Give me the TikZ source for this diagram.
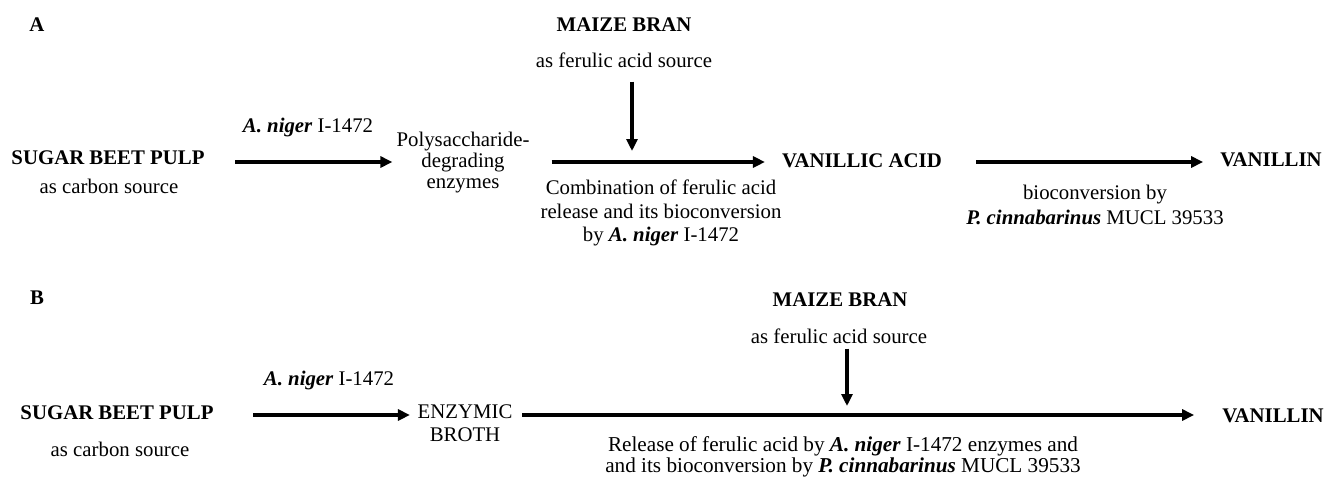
\documentclass[tikz,border=0pt]{standalone}
\usepackage{fontspec}
\setmainfont{Liberation Serif}
\usetikzlibrary{arrows.meta}
\begin{document}
\begin{tikzpicture}[x=1pt,y=-1pt,
  every node/.style={inner sep=0pt, align=center, font=\fontsize{20.8}{21}\selectfont},
  hd/.style={font=\fontsize{20.8}{21}\selectfont\bfseries},
  arr/.style={line width=3.2pt, -{Triangle[length=12pt,width=11pt]}},
]
\useasboundingbox (0,0) rectangle (1326,480);
% ---------- Panel A ----------
\node[hd] (labA) at (37,25) {A};
\node[hd] (sbpA) at (108,158) {SUGAR BEET PULP};
\node (carbA) at (109,186) {as carbon source};
\node (nigA) at (308,127) {\textbf{\textit{A. niger}} I-1472};
\node (polyA) at (463,163) {Polysaccharide-\\degrading\\enzymes};
\node[hd] (maizeA) at (624,25) {MAIZE BRAN};
\node (ferA) at (624,60) {as ferulic acid source};
\node[hd] (vaA) at (862,161) {VANILLIC ACID};
\node[font=\fontsize{20.8}{23.5}\selectfont] (combA) at (661,213) {Combination of ferulic acid\\release and its bioconversion\\by \textbf{\textit{A. niger}} I-1472};
\node[hd] (vanA) at (1271,160) {VANILLIN};
\node[font=\fontsize{20.8}{25}\selectfont] (bioA) at (1095,205) {bioconversion by\\\textbf{\textit{P. cinnabarinus}} MUCL 39533};
\coordinate (mixA) at (632,151);

\draw[arr] ([xshift=30.5pt,yshift=-4pt]sbpA.east) coordinate (a1) -- ([xshift=-4pt]polyA.west |- a1);
\draw[arr] ([xshift=22pt]polyA.east |- a1) -- ([xshift=-17pt]vaA.west |- a1);
\draw[arr] ([xshift=34pt]vaA.east |- a1) -- ([xshift=-17pt]vanA.west |- a1);
\draw[arr] (ferA.south -| mixA) ++(0,14) -- (mixA);

% ---------- Panel B ----------
\node[hd] (labB) at (37,298) {B};
\node[hd] (sbpB) at (117,413) {SUGAR BEET PULP};
\node (carbB) at (120,449) {as carbon source};
\node (nigB) at (329,380) {\textbf{\textit{A. niger}} I-1472};
\node[font=\fontsize{20.8}{23}\selectfont] (enzB) at (465,423) {ENZYMIC\\BROTH};
\node[hd] (maizeB) at (840,300) {MAIZE BRAN};
\node (ferB) at (839,336) {as ferulic acid source};
\node[hd] (vanB) at (1273,416) {VANILLIN};
\node[font=\fontsize{21.2}{21}\selectfont] (relB) at (843,457) {Release of ferulic acid by \textbf{\textit{A. niger}} I-1472 enzymes and\\and its bioconversion by \textbf{\textit{P. cinnabarinus}} MUCL 39533};
\coordinate (mixB) at (847,406);

\draw[arr] ([xshift=39.5pt,yshift=-2pt]sbpB.east) coordinate (b1) -- ([xshift=-7.5pt]enzB.west |- b1);
\draw[arr] ([xshift=9.5pt]enzB.east |- b1) -- ([xshift=-28pt]vanB.west |- b1);
\draw[arr] (ferB.south -| mixB) ++(0,5) -- (mixB);
\end{tikzpicture}
\end{document}
